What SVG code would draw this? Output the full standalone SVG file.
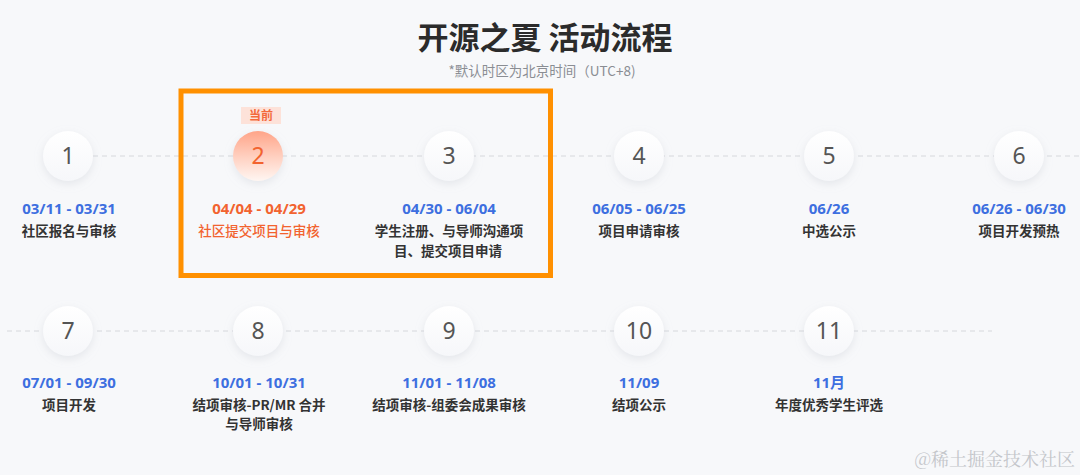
<svg xmlns="http://www.w3.org/2000/svg" width="1080" height="475" viewBox="0 0 1080 475">
<defs>
<style>
.cjk{font-family:"Noto Sans CJK SC","Noto Sans",sans-serif}
.num{font-family:"Noto Sans","Open Sans",sans-serif;font-size:23px;fill:#555;text-anchor:middle}
.date{font-family:"Noto Sans","Noto Sans CJK SC",sans-serif;font-size:15px;font-weight:700;fill:#3d6fe0;text-anchor:middle}
.desc{font-family:"Noto Sans CJK SC",sans-serif;font-size:13.5px;font-weight:700;fill:#333;text-anchor:middle}
.dash{stroke:#d6d8dc;stroke-width:1;stroke-dasharray:5 4;fill:none}
.circ{fill:url(#wg);filter:url(#sh)}
</style>
<linearGradient id="wg" x1="0" y1="0" x2="0" y2="1">
<stop offset="0" stop-color="#ffffff"/>
<stop offset="1" stop-color="#f6f7fa"/>
</linearGradient>
<linearGradient id="og" x1="0" y1="0" x2="0" y2="1">
<stop offset="0" stop-color="#ffa488"/>
<stop offset="0.55" stop-color="#ffd3c4"/>
<stop offset="1" stop-color="#fff6f2"/>
</linearGradient>
<filter id="sh" x="-50%" y="-50%" width="200%" height="200%">
<feDropShadow dx="0" dy="3" stdDeviation="4" flood-color="#b8bcc8" flood-opacity="0.3"/>
</filter>
</defs>
<rect width="1080" height="475" fill="#f7f8fa"/>
<text x="545" y="49" class="cjk" font-size="31" font-weight="700" fill="#2b2b2b" text-anchor="middle">开源之夏 活动流程</text>
<text x="542" y="76" class="cjk" font-size="13.5" fill="#8a8d93" text-anchor="middle">*默认时区为北京时间（UTC+8)</text>
<g id="connectors">
<line class="dash" x1="93" y1="156" x2="1080" y2="156"/>
<line class="dash" x1="7" y1="331" x2="992" y2="331"/>
</g>
<rect id="highlight" x="181" y="91" width="369.5" height="184.5" fill="none" stroke="#ff9000" stroke-width="5"/>
<g id="n1"><circle class="circ" cx="68" cy="156" r="25"/><text class="num" x="68" y="164">1</text><text class="date" x="69" y="214">03/11 - 03/31</text><text class="desc" x="69" y="236">社区报名与审核</text></g>
<g id="n2"><rect x="241" y="107" width="40" height="17" fill="#fde2d9"/><text x="261" y="120" class="cjk" font-size="12" font-weight="700" fill="#f36a3c" text-anchor="middle">当前</text><circle cx="258" cy="156" r="25" fill="url(#og)" filter="url(#sh)"/><text class="num" x="258" y="164" style="fill:#f2632f">2</text><text class="date" x="259" y="214" style="fill:#f2632f">04/04 - 04/29</text><text class="desc" x="259" y="236" style="fill:#f2632f;font-weight:500">社区提交项目与审核</text></g>
<g id="n3"><circle class="circ" cx="449" cy="156" r="25"/><text class="num" x="449" y="164">3</text><text class="date" x="449" y="214">04/30 - 06/04</text><text class="desc" x="449" y="236">学生注册、与导师沟通项</text><text class="desc" x="448" y="256">目、提交项目申请</text></g>
<g id="n4"><circle class="circ" cx="639" cy="156" r="25"/><text class="num" x="639" y="164">4</text><text class="date" x="639" y="214">06/05 - 06/25</text><text class="desc" x="639" y="236">项目申请审核</text></g>
<g id="n5"><circle class="circ" cx="829" cy="156" r="25"/><text class="num" x="829" y="164">5</text><text class="date" x="829" y="214">06/26</text><text class="desc" x="829" y="236">中选公示</text></g>
<g id="n6"><circle class="circ" cx="1019" cy="156" r="25"/><text class="num" x="1019" y="164">6</text><text class="date" x="1019" y="214">06/26 - 06/30</text><text class="desc" x="1019" y="236">项目开发预热</text></g>
<g id="n7"><circle class="circ" cx="68" cy="331" r="25"/><text class="num" x="68" y="339">7</text><text class="date" x="69" y="388">07/01 - 09/30</text><text class="desc" x="69" y="410">项目开发</text></g>
<g id="n8"><circle class="circ" cx="258" cy="331" r="25"/><text class="num" x="258" y="339">8</text><text class="date" x="259" y="388">10/01 - 10/31</text><text class="desc" x="259" y="410">结项审核-PR/MR 合并</text><text class="desc" x="259" y="429">与导师审核</text></g>
<g id="n9"><circle class="circ" cx="449" cy="331" r="25"/><text class="num" x="449" y="339">9</text><text class="date" x="449" y="388">11/01 - 11/08</text><text class="desc" x="449" y="410">结项审核-组委会成果审核</text></g>
<g id="n10"><circle class="circ" cx="639" cy="331" r="25"/><text class="num" x="639" y="339">10</text><text class="date" x="639" y="388">11/09</text><text class="desc" x="639" y="410">结项公示</text></g>
<g id="n11"><circle class="circ" cx="829" cy="331" r="25"/><text class="num" x="829" y="339">11</text><text class="date" x="829" y="388">11月</text><text class="desc" x="829" y="410">年度优秀学生评选</text></g>
<text x="1075" y="466" font-family="'Noto Serif CJK SC','Noto Sans CJK SC',serif" font-size="18" fill="#c4c6ca" text-anchor="end">@稀土掘金技术社区</text>
</svg>
